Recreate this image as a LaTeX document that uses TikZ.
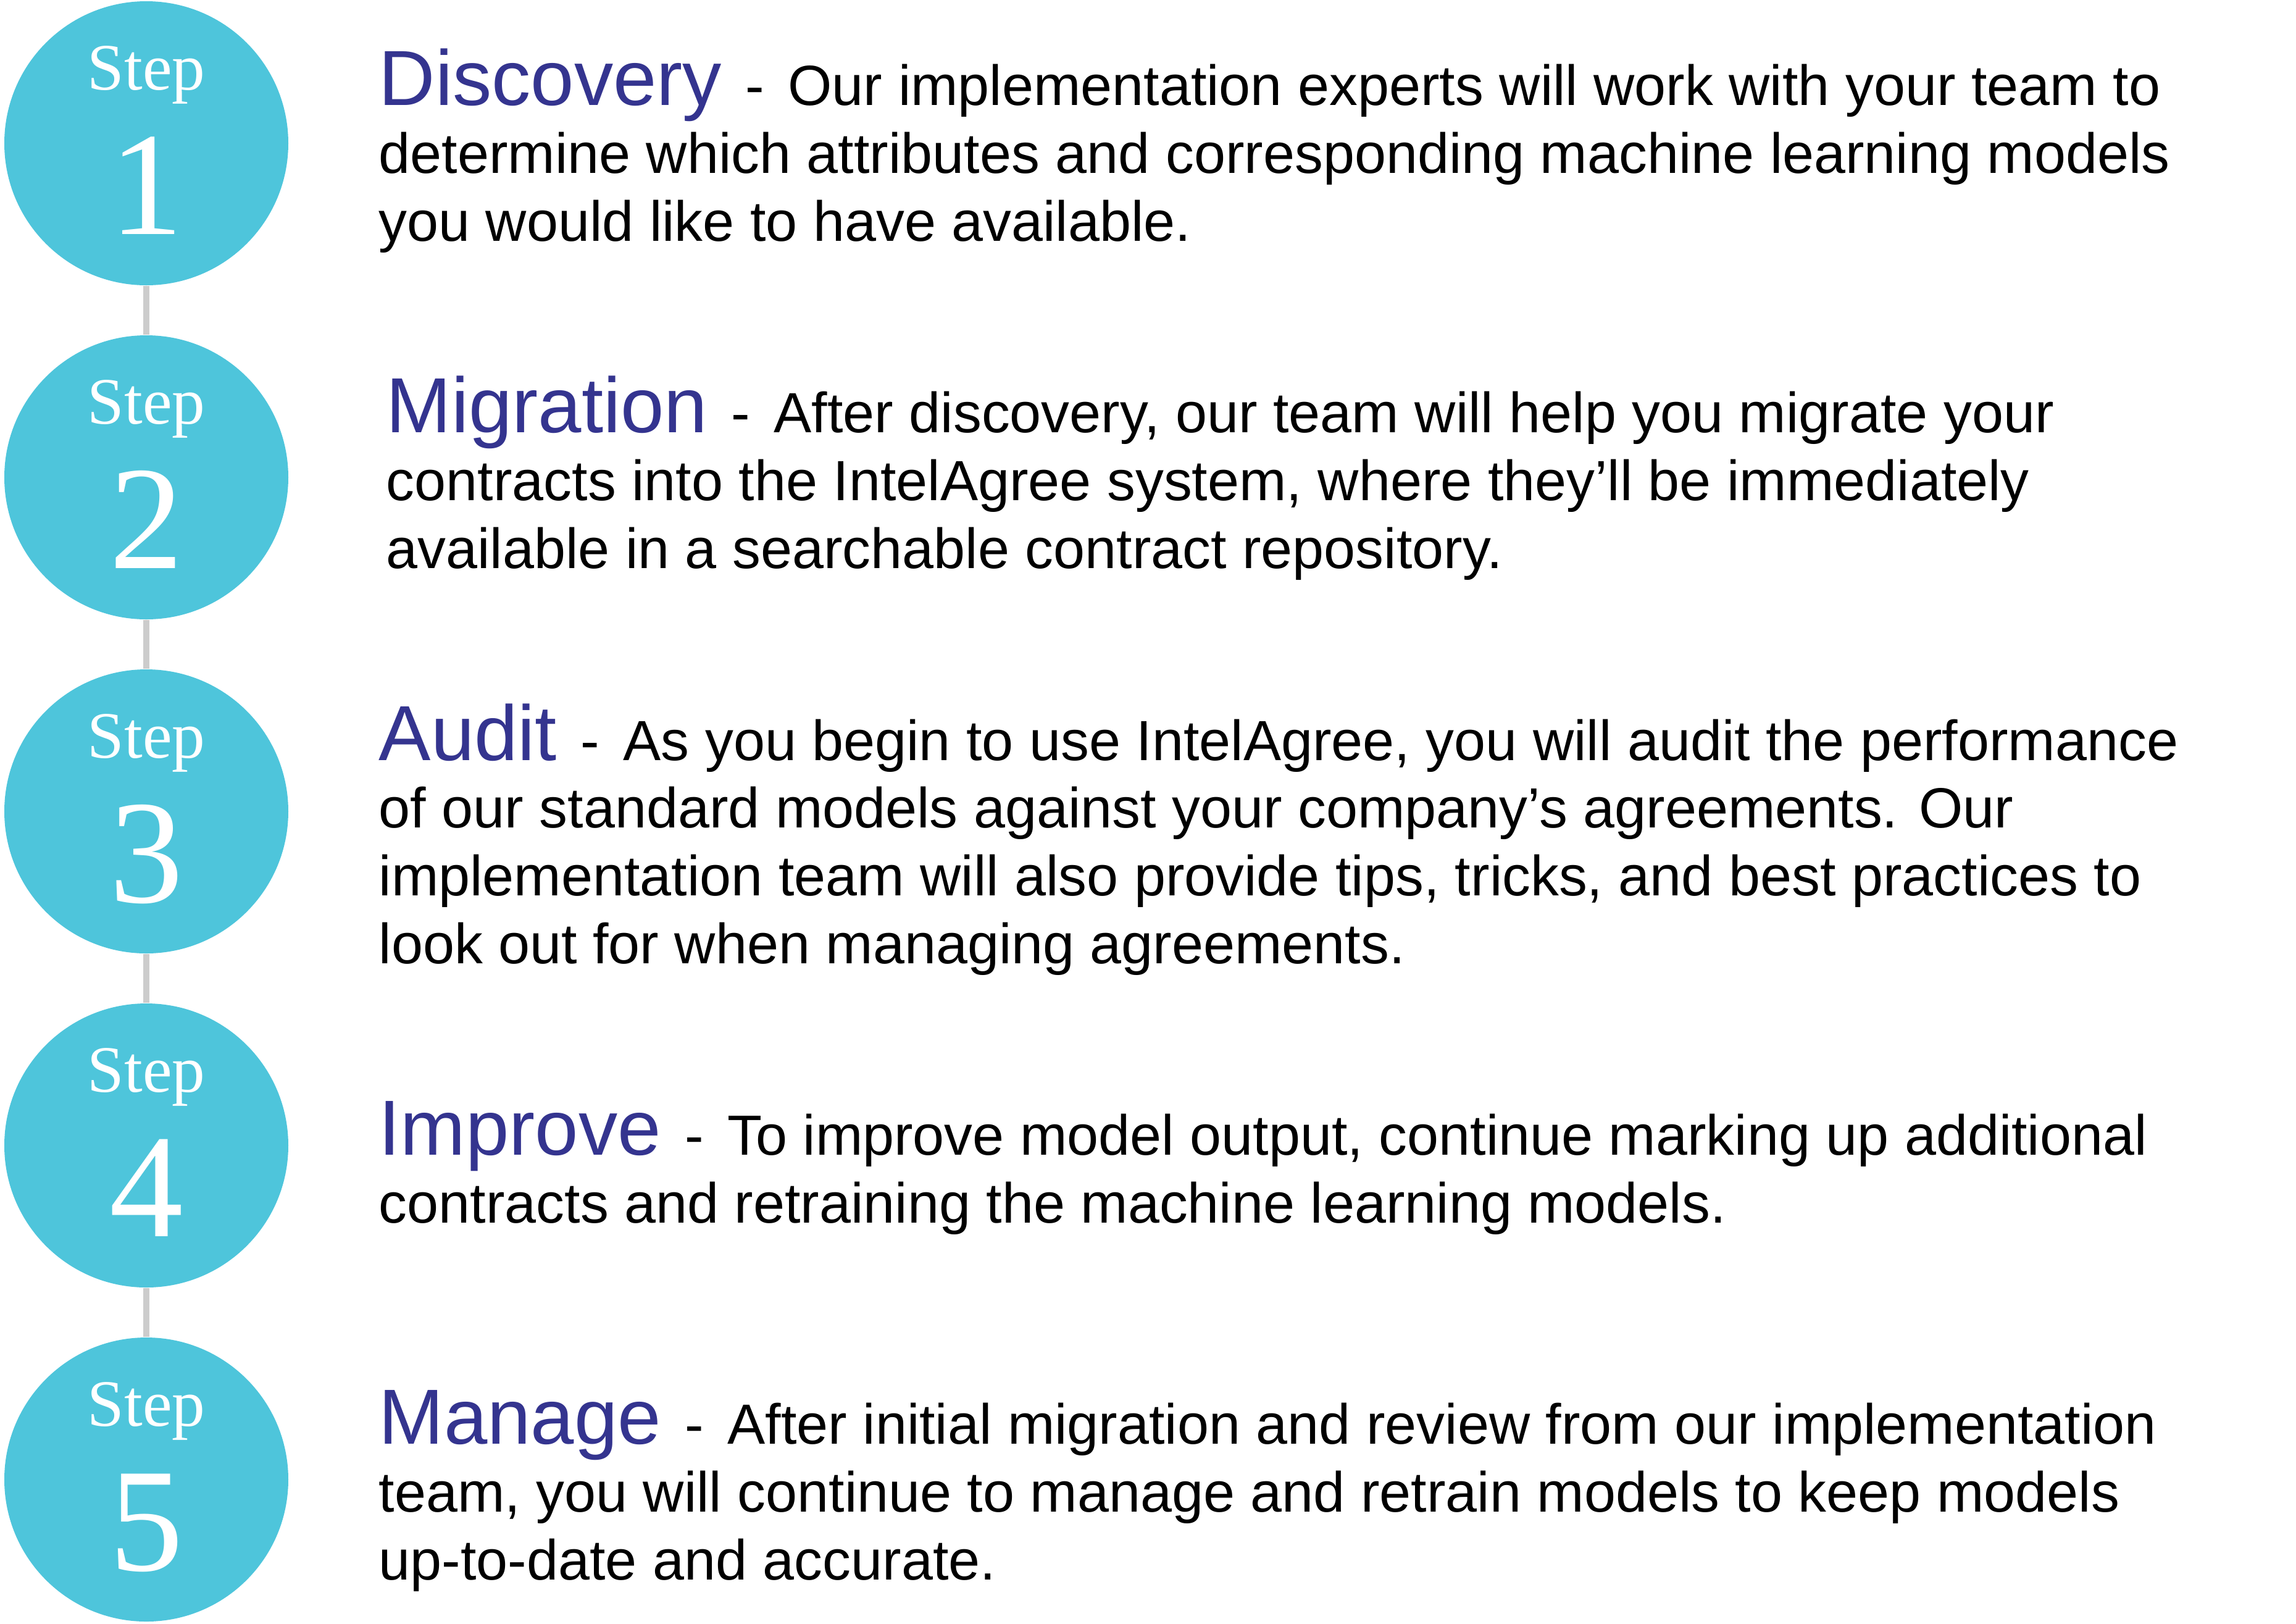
\documentclass[tikz,border=0pt]{standalone}
\usepackage{fontspec}
\setmainfont{Liberation Sans}
\newfontfamily\stepfont{Liberation Serif}
\definecolor{stepcyan}{HTML}{4EC5DB}
\definecolor{titleblue}{HTML}{34348F}
\newcommand{\steptitle}[1]{{\color{titleblue}\fontsize{36}{31.2}\selectfont #1}\hspace{0.42em}-\hspace{0.42em}}

\begin{document}
\begin{tikzpicture}[
    stepdot/.style={circle, fill=stepcyan, minimum size=4.6cm, inner sep=0pt},
    stepword/.style={anchor=base, text=white, inner sep=0pt, font=\stepfont\fontsize{30.5}{30}\selectfont},
    stepnum/.style={anchor=base, text=white, inner sep=0pt, font=\stepfont\fontsize{68}{68}\selectfont},
    link/.style={draw=black!20, line width=1mm},
    blurb/.style={anchor=base west, align=left, inner sep=0pt, font=\fontsize{26.1}{31.2}\selectfont}]

    \useasboundingbox (0,0) rectangle (37.19,-26.29);

    % circles down the left side
    \foreach \i/\y in {1/-2.32, 2/-7.73, 3/-13.14, 4/-18.55, 5/-23.96} {
        \node[stepdot] (s\i) at (2.37,\y) {};
        \node[stepword] (w\i) at ([yshift=8.7mm]s\i.center) {Step};
        \node[stepnum] (n\i) at ([yshift=-14.7mm]s\i.center) {\i};
    }
    \foreach \a/\b in {1/2, 2/3, 3/4, 4/5}
        \draw[link] (s\a.south) -- (s\b.north);

    % (base of a multi-line node = its last line)
    \node[blurb] (t1) at (6.13,-3.90) {\steptitle{Discovery}Our implementation experts will work with your team to\\
        determine which attributes and corresponding machine learning models\\
        you would like to have available.};
    \node[blurb] (t2) at (6.25,-9.20) {\steptitle{Migration}After discovery, our team will help you migrate your\\
        contracts into the IntelAgree system, where they’ll be immediately\\
        available in a searchable contract repository.};
    \node[blurb] (t3) at (6.13,-15.60) {\steptitle{Audit}As you begin to use IntelAgree, you will audit the performance\\
        of our standard models against your company’s agreements. Our\\
        implementation team will also provide tips, tricks, and best practices to\\
        look out for when managing agreements.};
    \node[blurb] (t4) at (6.13,-19.80) {\steptitle{Improve}To improve model output, continue marking up additional\\
        contracts and retraining the machine learning models.};
    \node[blurb] (t5) at (6.13,-25.58) {\steptitle{Manage}After initial migration and review from our implementation\\
        team, you will continue to manage and retrain models to keep models\\
        up-to-date and accurate.};
\end{tikzpicture}
\end{document}
